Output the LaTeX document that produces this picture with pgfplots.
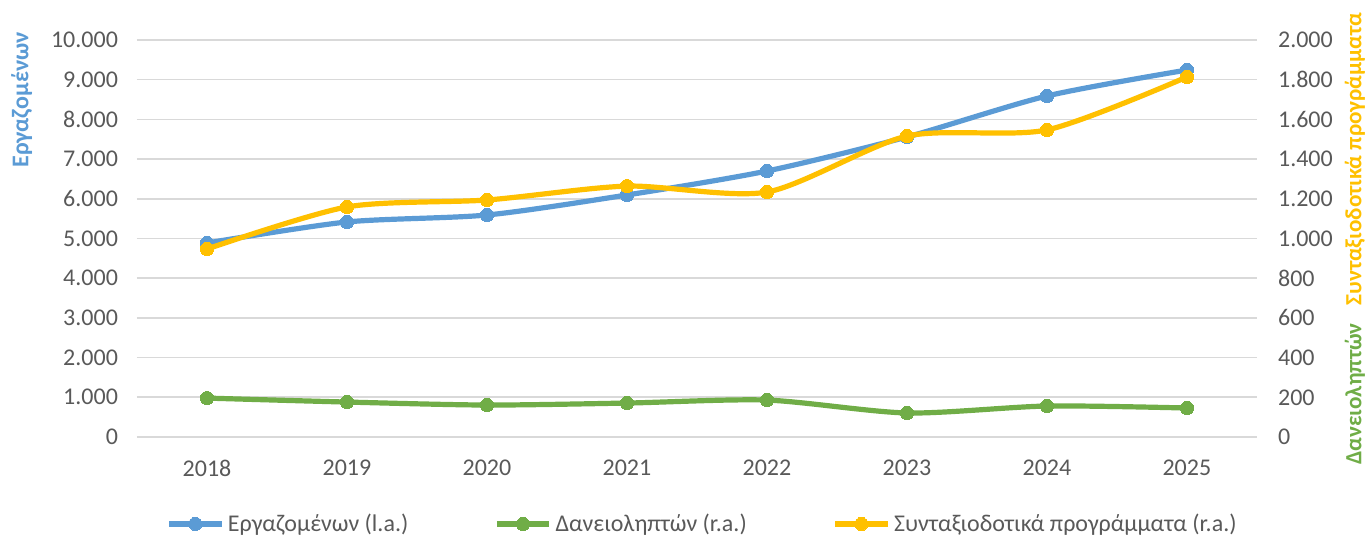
\documentclass[border=0pt]{standalone}
\usepackage{fontspec}
\setmainfont{Carlito}
\usepackage{pgfplots}
\pgfplotsset{compat=1.18}
\definecolor{cblue}{HTML}{5B9BD5}
\definecolor{cgreen}{HTML}{70AD47}
\definecolor{cyellow}{HTML}{FFC000}
\definecolor{ctext}{HTML}{595959}
\definecolor{cgrid}{HTML}{D9D9D9}

\pgfplotsset{
  common/.style={
    scale only axis, width=560pt, height=198.5pt,
    xmin=2017.5, xmax=2025.5,
    xtick={2018,...,2025},
    major tick length=0pt,
    scaled y ticks=false,
    tick label style={font=\fontsize{12}{14}\selectfont, text=ctext},
    /pgf/number format/assume math mode=true,
    /pgf/number format/fixed,
    /pgf/number format/1000 sep={.},
    x tick label style={/pgf/number format/1000 sep={}, yshift=-8pt},
    axis line style={draw=none},
  },
  serie/.style={color=#1, line width=2.6pt, smooth, tension=0.45,
    mark=*, mark size=3.3pt, mark options={fill=#1, draw=#1, line width=0pt}},
  legend image code/.code={
    \draw[#1, mark repeat=2, mark phase=2] plot coordinates {(0pt,0pt) (13pt,0pt) (26pt,0pt)};
  },
}

\begin{document}
\begin{tikzpicture}
\begin{axis}[common,
  ymin=0, ymax=10000, ytick={0,1000,...,10000},
  ymajorgrids, grid style={cgrid, line width=0.8pt},
  yticklabel style={xshift=-6pt},
  ylabel={\bfseries Εργαζομένων},
  ylabel style={font=\fontsize{12}{14}\selectfont, text=cblue,
    at={(axis description cs:-0.103,0.849)}, anchor=center},
]
\addplot[serie=cblue] coordinates {
  (2018,4887) (2019,5416) (2020,5592) (2021,6096)
  (2022,6700) (2023,7557) (2024,8590) (2025,9244)
};
\end{axis}
\begin{axis}[common,
  axis x line=none,
  ymin=0, ymax=2000, ytick={0,200,...,2000},
  axis y line*=right,
  yticklabel style={xshift=7pt},
  ylabel={\bfseries\textcolor{cgreen}{Δανειοληπτών}\hspace{9pt}\textcolor{cyellow}{Συνταξιοδοτικά προγράμματα}},
  ylabel style={font=\fontsize{11.6}{14}\selectfont,
    at={(axis description cs:1.0875,0.499)}, anchor=center},
  legend columns=3,
  legend style={draw=none, fill=none, at={(axis description cs:0.506,-0.219)}, anchor=center,
    font=\fontsize{12}{14}\selectfont, text=ctext,
    /tikz/every even column/.append style={column sep=41pt}},
  legend cell align=left,
]
\addlegendimage{serie=cblue}
\addlegendentry{Εργαζομένων (l.a.)}
\addplot[serie=cgreen] coordinates {
  (2018,196) (2019,176) (2020,161) (2021,171)
  (2022,186) (2023,121) (2024,156) (2025,146)
};
\addlegendentry{Δανειοληπτών (r.a.)}
\addplot[serie=cyellow] coordinates {
  (2018,947) (2019,1159) (2020,1194) (2021,1264)
  (2022,1234) (2023,1516) (2024,1547) (2025,1814)
};
\addlegendentry{Συνταξιοδοτικά προγράμματα (r.a.)}
\end{axis}
\pgfresetboundingbox
\useasboundingbox (-68.5pt,-51pt) rectangle (616.5pt,218.5pt);
\end{tikzpicture}
\end{document}
